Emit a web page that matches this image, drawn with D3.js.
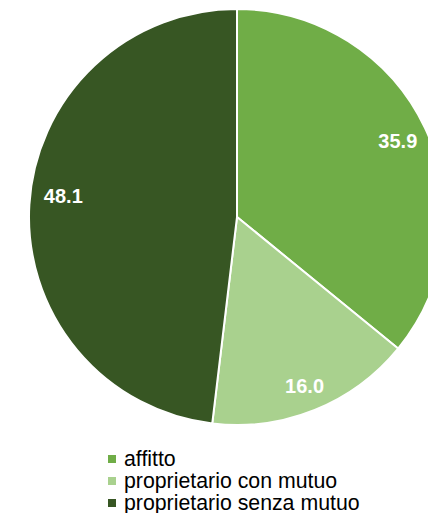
<!DOCTYPE html>
<html>
<head>
<meta charset="utf-8">
<script src="https://cdn.jsdelivr.net/npm/d3@7"></script>
<style>
  html, body { margin: 0; padding: 0; background: #fff; }
  svg { display: block; }
</style>
</head>
<body>
<svg id="chart" width="428" height="513"></svg>
<script>
// Housing tenure shares (%)
const categories = ["affitto", "proprietario con mutuo", "proprietario senza mutuo"];
const values = [35.9, 16.0, 48.1];
const colors = ["#70AD47", "#A9D18E", "#375623"];

// small manual nudges for the value labels, in pixels
const labelNudge = [[0, 0], [1, 4], [4, -10]];

const svg = d3.select("#chart");
const cx = 237, cy = 217, radius = 208, labelRadius = 178;

const pie = d3.pie().sort(null).value(d => d.value);
const arcs = pie(categories.map((c, i) => ({ name: c, value: values[i], color: colors[i], i })));

const arc = d3.arc().innerRadius(0).outerRadius(radius);
const labelArc = d3.arc().innerRadius(labelRadius).outerRadius(labelRadius);

const g = svg.append("g").attr("transform", `translate(${cx},${cy})`);

g.selectAll("path.slice")
  .data(arcs)
  .join("path")
  .attr("class", "slice")
  .attr("d", arc)
  .attr("fill", d => d.data.color)
  .attr("stroke", "#fff")
  .attr("stroke-width", 2)
  .attr("stroke-linejoin", "round");

g.selectAll("text.val")
  .data(arcs)
  .join("text")
  .attr("class", "val")
  .attr("transform", d => {
    const [x, y] = labelArc.centroid(d);
    const [nx, ny] = labelNudge[d.data.i];
    return `translate(${x + nx},${y + ny})`;
  })
  .attr("text-anchor", "middle")
  .attr("dy", "0.35em")
  .attr("font-family", "Liberation Sans, Arial, sans-serif")
  .attr("font-weight", "bold")
  .attr("font-size", 20)
  .attr("fill", "#fff")
  .text(d => d.data.value.toFixed(1));

// Legend
const legend = svg.append("g").attr("transform", "translate(108,459)");
const rowH = 22;
const items = legend.selectAll("g.item")
  .data(categories)
  .join("g")
  .attr("class", "item")
  .attr("transform", (d, i) => `translate(0,${i * rowH})`);

items.append("rect")
  .attr("x", 0).attr("y", -4)
  .attr("width", 8).attr("height", 8)
  .attr("fill", (d, i) => colors[i]);

items.append("text")
  .attr("x", 16)
  .attr("y", 6.5)
  .attr("font-family", "Liberation Sans, Arial, sans-serif")
  .attr("font-size", 21.3)
  .attr("fill", "#000")
  .text(d => d);
</script>
</body>
</html>
